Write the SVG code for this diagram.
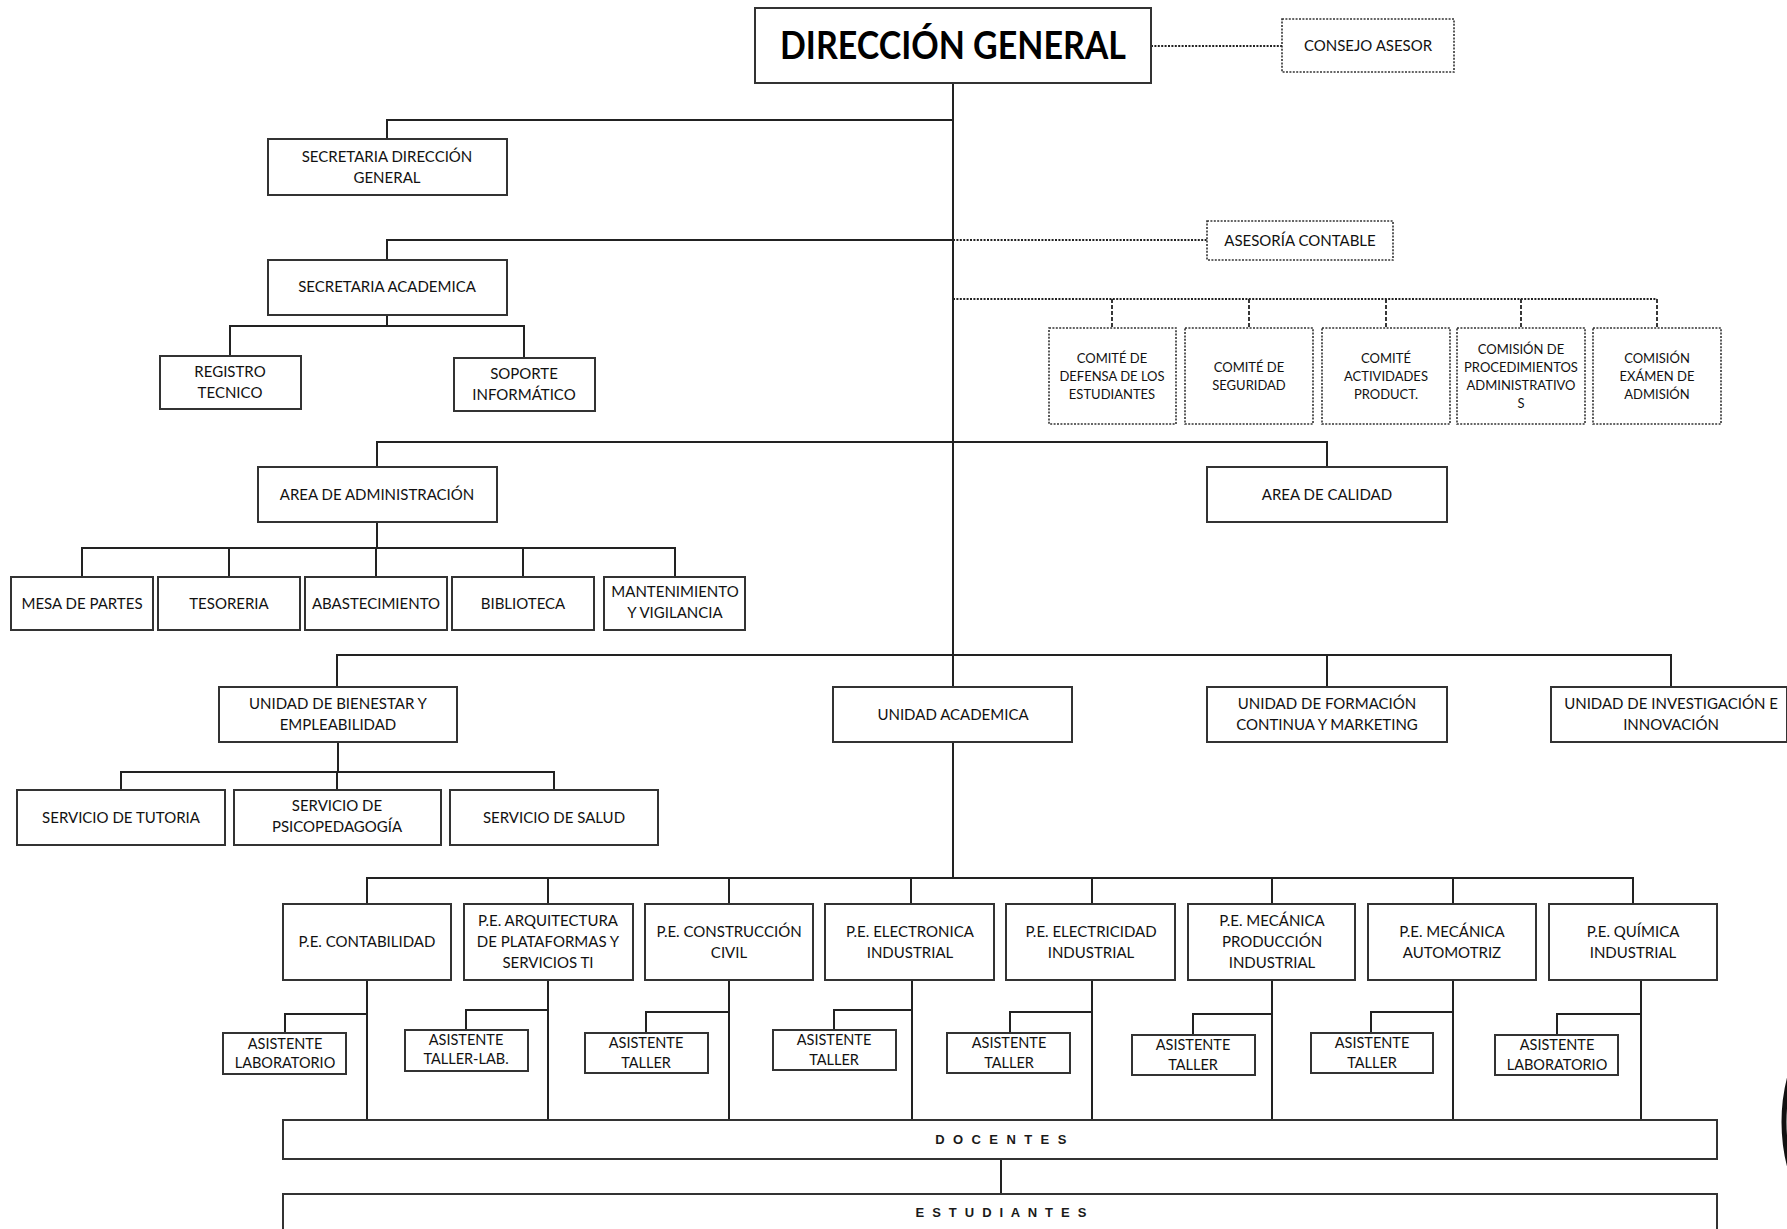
<svg xmlns="http://www.w3.org/2000/svg" width="1787" height="1229" viewBox="0 0 1787 1229">
<style>
.bg{fill:#fff}
.box{fill:#fff;stroke:#333;stroke-width:2}
.dbox{fill:#fff;stroke:#333;stroke-width:1.6;stroke-dasharray:2 1.4}
.t{font-family:Lato,"Liberation Sans",sans-serif;font-size:15px;text-anchor:middle;fill:#111}
.ts{font-size:13px}
.ta{font-size:14.5px}
.title{font-family:Lato,"Liberation Sans",sans-serif;font-size:38px;font-weight:bold;text-anchor:middle;fill:#000}
.sp{font-family:"Liberation Sans",sans-serif;font-size:13px;font-weight:bold;text-anchor:middle;fill:#1a1a1a}
.ln{stroke:#222;stroke-width:2;fill:none}
.dot{stroke:#222;stroke-width:1.8;fill:none;stroke-dasharray:2 1.4}
.dash{stroke:#222;stroke-width:1.8;fill:none;stroke-dasharray:4 2}
</style>
<rect class="bg" x="0" y="0" width="1787" height="1229"/>

<g id="connectors">
  <path class="ln" d="M953 83V687M953 742V878"/>
  <path class="ln" d="M387 139V120H953M387 260V240H953"/>
  <path class="ln" d="M387 315V326M230 356V326H524V358"/>
  <path class="ln" d="M377 467V442H1327V467"/>
  <path class="ln" d="M377 522V548M82 577V548H675V577M229 548V577M376 548V577M523 548V577"/>
  <path class="ln" d="M337 687V655H1671V687M1327 655V687"/>
  <path class="ln" d="M338 742V772M121 790V772H554V790M337 772V790"/>
  <path class="ln" d="M367 904V878H1633V904M548 878V904M729 878V904M911 878V904M1092 878V904M1272 878V904M1453 878V904"/>
  <path class="ln" d="M367 980V1120M548 980V1120M729 980V1120M912 980V1120M1092 980V1120M1272 980V1120M1453 980V1120M1641 980V1120"/>
  <path class="ln" d="M285 1033V1014H367M466 1030V1010H548M646 1033V1012H729M834 1030V1010H912M1010 1033V1012H1092M1193 1035V1014H1272M1371 1033V1012H1453M1557 1035V1014H1641"/>
  <path class="ln" d="M1001 1159V1194"/>
  <path class="dot" d="M1151 46H1282M953 240H1207M953 299H1657"/>
  <path class="dash" d="M1112 299V328M1249 299V328M1386 299V328M1521 299V328M1657 299V328"/>
</g>

<g id="direccion-general">
  <rect class="box" x="755" y="8" width="396" height="75"/>
  <text class="title" x="953" y="59" textLength="346" lengthAdjust="spacingAndGlyphs">DIRECCIÓN GENERAL</text>
</g>
<g id="consejo-asesor">
  <rect class="dbox" x="1282" y="19" width="172" height="53"/>
  <text class="t" x="1368" y="51">CONSEJO ASESOR</text>
</g>
<g id="secretaria-direccion">
  <rect class="box" x="268" y="139" width="239" height="56"/>
  <text class="t" x="387" y="162">SECRETARIA DIRECCIÓN</text>
  <text class="t" x="387" y="183">GENERAL</text>
</g>
<g id="secretaria-academica">
  <rect class="box" x="268" y="260" width="239" height="55"/>
  <text class="t" x="387" y="292">SECRETARIA ACADEMICA</text>
</g>
<g id="asesoria-contable">
  <rect class="dbox" x="1207" y="221" width="186" height="39"/>
  <text class="t" x="1300" y="246">ASESORÍA CONTABLE</text>
</g>
<g id="registro-tecnico">
  <rect class="box" x="160" y="356" width="141" height="53"/>
  <text class="t" x="230" y="377">REGISTRO</text>
  <text class="t" x="230" y="398">TECNICO</text>
</g>
<g id="soporte-informatico">
  <rect class="box" x="454" y="358" width="141" height="53"/>
  <text class="t" x="524" y="379">SOPORTE</text>
  <text class="t" x="524" y="400">INFORMÁTICO</text>
</g>

<g id="comite-defensa">
  <rect class="dbox" x="1049" y="328" width="127" height="96"/>
  <text class="t ts" x="1112" y="363">COMITÉ DE</text>
  <text class="t ts" x="1112" y="381">DEFENSA DE LOS</text>
  <text class="t ts" x="1112" y="399">ESTUDIANTES</text>
</g>
<g id="comite-seguridad">
  <rect class="dbox" x="1185" y="328" width="128" height="96"/>
  <text class="t ts" x="1249" y="372">COMITÉ DE</text>
  <text class="t ts" x="1249" y="390">SEGURIDAD</text>
</g>
<g id="comite-actividades">
  <rect class="dbox" x="1322" y="328" width="128" height="96"/>
  <text class="t ts" x="1386" y="363">COMITÉ</text>
  <text class="t ts" x="1386" y="381">ACTIVIDADES</text>
  <text class="t ts" x="1386" y="399">PRODUCT.</text>
</g>
<g id="comision-procedimientos">
  <rect class="dbox" x="1457" y="328" width="128" height="96"/>
  <text class="t ts" x="1521" y="354">COMISIÓN DE</text>
  <text class="t ts" x="1521" y="372">PROCEDIMIENTOS</text>
  <text class="t ts" x="1521" y="390">ADMINISTRATIVO</text>
  <text class="t ts" x="1521" y="408">S</text>
</g>
<g id="comision-examen">
  <rect class="dbox" x="1593" y="328" width="128" height="96"/>
  <text class="t ts" x="1657" y="363">COMISIÓN</text>
  <text class="t ts" x="1657" y="381">EXÁMEN DE</text>
  <text class="t ts" x="1657" y="399">ADMISIÓN</text>
</g>

<g id="area-administracion">
  <rect class="box" x="258" y="467" width="239" height="55"/>
  <text class="t" x="377" y="500">AREA DE ADMINISTRACIÓN</text>
</g>
<g id="area-calidad">
  <rect class="box" x="1207" y="467" width="240" height="55"/>
  <text class="t" x="1327" y="500">AREA DE CALIDAD</text>
</g>

<g id="mesa-partes">
  <rect class="box" x="11" y="577" width="142" height="53"/>
  <text class="t" x="82" y="609">MESA DE PARTES</text>
</g>
<g id="tesoreria">
  <rect class="box" x="158" y="577" width="142" height="53"/>
  <text class="t" x="229" y="609">TESORERIA</text>
</g>
<g id="abastecimiento">
  <rect class="box" x="305" y="577" width="142" height="53"/>
  <text class="t" x="376" y="609">ABASTECIMIENTO</text>
</g>
<g id="biblioteca">
  <rect class="box" x="452" y="577" width="142" height="53"/>
  <text class="t" x="523" y="609">BIBLIOTECA</text>
</g>
<g id="mantenimiento">
  <rect class="box" x="604" y="577" width="141" height="53"/>
  <text class="t" x="675" y="597">MANTENIMIENTO</text>
  <text class="t" x="675" y="618">Y VIGILANCIA</text>
</g>

<g id="unidad-bienestar">
  <rect class="box" x="219" y="687" width="238" height="55"/>
  <text class="t" x="338" y="709">UNIDAD DE BIENESTAR Y</text>
  <text class="t" x="338" y="730">EMPLEABILIDAD</text>
</g>
<g id="unidad-academica">
  <rect class="box" x="833" y="687" width="239" height="55"/>
  <text class="t" x="953" y="720">UNIDAD ACADEMICA</text>
</g>
<g id="unidad-formacion">
  <rect class="box" x="1207" y="687" width="240" height="55"/>
  <text class="t" x="1327" y="709">UNIDAD DE FORMACIÓN</text>
  <text class="t" x="1327" y="730">CONTINUA Y MARKETING</text>
</g>
<g id="unidad-investigacion">
  <rect class="box" x="1551" y="687" width="236" height="55"/>
  <text class="t" x="1671" y="709">UNIDAD DE INVESTIGACIÓN E</text>
  <text class="t" x="1671" y="730">INNOVACIÓN</text>
</g>

<g id="servicio-tutoria">
  <rect class="box" x="17" y="790" width="208" height="55"/>
  <text class="t" x="121" y="823">SERVICIO DE TUTORIA</text>
</g>
<g id="servicio-psicopedagogia">
  <rect class="box" x="234" y="790" width="207" height="55"/>
  <text class="t" x="337" y="811">SERVICIO DE</text>
  <text class="t" x="337" y="832">PSICOPEDAGOGÍA</text>
</g>
<g id="servicio-salud">
  <rect class="box" x="450" y="790" width="208" height="55"/>
  <text class="t" x="554" y="823">SERVICIO DE SALUD</text>
</g>

<g id="pe-contabilidad">
  <rect class="box" x="283" y="904" width="168" height="76"/>
  <text class="t" x="367" y="947">P.E. CONTABILIDAD</text>
</g>
<g id="pe-arquitectura">
  <rect class="box" x="464" y="904" width="169" height="76"/>
  <text class="t" x="548" y="926">P.E. ARQUITECTURA</text>
  <text class="t" x="548" y="947">DE PLATAFORMAS Y</text>
  <text class="t" x="548" y="968">SERVICIOS TI</text>
</g>
<g id="pe-construccion">
  <rect class="box" x="645" y="904" width="168" height="76"/>
  <text class="t" x="729" y="937">P.E. CONSTRUCCIÓN</text>
  <text class="t" x="729" y="958">CIVIL</text>
</g>
<g id="pe-electronica">
  <rect class="box" x="825" y="904" width="169" height="76"/>
  <text class="t" x="910" y="937">P.E. ELECTRONICA</text>
  <text class="t" x="910" y="958">INDUSTRIAL</text>
</g>
<g id="pe-electricidad">
  <rect class="box" x="1006" y="904" width="169" height="76"/>
  <text class="t" x="1091" y="937">P.E. ELECTRICIDAD</text>
  <text class="t" x="1091" y="958">INDUSTRIAL</text>
</g>
<g id="pe-mecanica-produccion">
  <rect class="box" x="1188" y="904" width="167" height="76"/>
  <text class="t" x="1272" y="926">P.E. MECÁNICA</text>
  <text class="t" x="1272" y="947">PRODUCCIÓN</text>
  <text class="t" x="1272" y="968">INDUSTRIAL</text>
</g>
<g id="pe-mecanica-automotriz">
  <rect class="box" x="1368" y="904" width="168" height="76"/>
  <text class="t" x="1452" y="937">P.E. MECÁNICA</text>
  <text class="t" x="1452" y="958">AUTOMOTRIZ</text>
</g>
<g id="pe-quimica">
  <rect class="box" x="1549" y="904" width="168" height="76"/>
  <text class="t" x="1633" y="937">P.E. QUÍMICA</text>
  <text class="t" x="1633" y="958">INDUSTRIAL</text>
</g>

<g id="asistente-1">
  <rect class="box" x="223" y="1033" width="123" height="41"/>
  <text class="t ta" x="285" y="1049">ASISTENTE</text>
  <text class="t ta" x="285" y="1068">LABORATORIO</text>
</g>
<g id="asistente-2">
  <rect class="box" x="405" y="1030" width="123" height="41"/>
  <text class="t ta" x="466" y="1045">ASISTENTE</text>
  <text class="t ta" x="466" y="1064">TALLER-LAB.</text>
</g>
<g id="asistente-3">
  <rect class="box" x="585" y="1033" width="123" height="40"/>
  <text class="t ta" x="646" y="1048">ASISTENTE</text>
  <text class="t ta" x="646" y="1068">TALLER</text>
</g>
<g id="asistente-4">
  <rect class="box" x="773" y="1030" width="123" height="40"/>
  <text class="t ta" x="834" y="1045">ASISTENTE</text>
  <text class="t ta" x="834" y="1065">TALLER</text>
</g>
<g id="asistente-5">
  <rect class="box" x="947" y="1033" width="123" height="40"/>
  <text class="t ta" x="1009" y="1048">ASISTENTE</text>
  <text class="t ta" x="1009" y="1068">TALLER</text>
</g>
<g id="asistente-6">
  <rect class="box" x="1132" y="1035" width="123" height="40"/>
  <text class="t ta" x="1193" y="1050">ASISTENTE</text>
  <text class="t ta" x="1193" y="1070">TALLER</text>
</g>
<g id="asistente-7">
  <rect class="box" x="1311" y="1033" width="122" height="40"/>
  <text class="t ta" x="1372" y="1048">ASISTENTE</text>
  <text class="t ta" x="1372" y="1068">TALLER</text>
</g>
<g id="asistente-8">
  <rect class="box" x="1495" y="1035" width="123" height="40"/>
  <text class="t ta" x="1557" y="1050">ASISTENTE</text>
  <text class="t ta" x="1557" y="1070">LABORATORIO</text>
</g>

<g id="docentes">
  <rect class="box" x="283" y="1120" width="1434" height="39"/>
  <text class="sp" x="1002" y="1144" letter-spacing="2.4">D O C E N T E S</text>
</g>
<g id="estudiantes">
  <rect class="box" x="283" y="1194" width="1434" height="50"/>
  <text class="sp" x="1002" y="1217" letter-spacing="2.2">E S T U D I A N T E S</text>
</g>

<circle cx="1964" cy="1122" r="180" fill="none" stroke="#111" stroke-width="5"/>
</svg>
